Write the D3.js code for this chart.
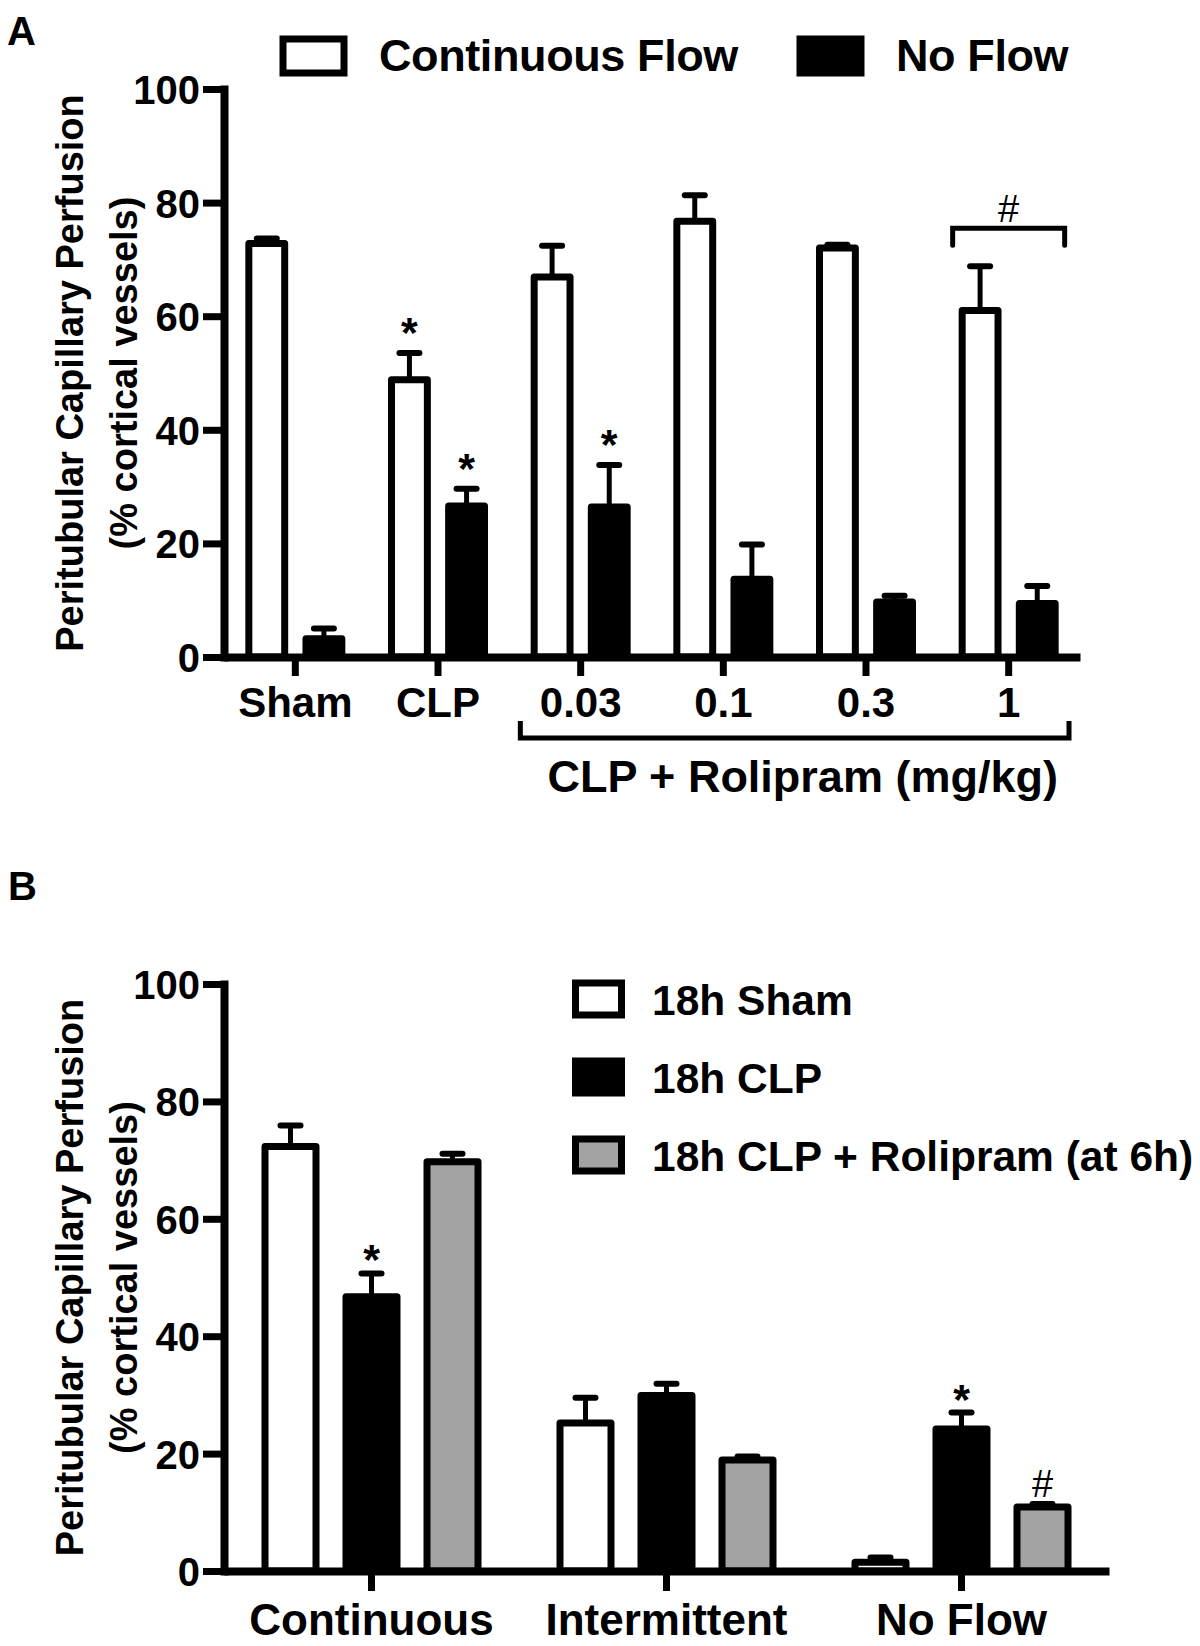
<!DOCTYPE html>
<html>
<head>
<meta charset="utf-8">
<script src="https://cdn.jsdelivr.net/npm/d3@7"></script>
<style>
  body { margin: 0; background: #fff; }
  svg text { font-family: 'Liberation Sans', Arial, Helvetica, sans-serif; font-weight: bold; fill: #000; }
</style>
</head>
<body>
<svg id="fig" width="1200" height="1646"></svg>
<script>
// Panel A: peritubular perfusion vs rolipram dose
const groupsA = ['Sham', 'CLP', '0.03', '0.1', '0.3', '1'];
const seriesA = ['Continuous Flow', 'No Flow'];
const continuousA = [72.8, 48.8, 66.9, 76.7, 72.0, 61.0];
const continuousErrA = [0.9, 4.7, 5.5, 4.6, 0.6, 7.8];
const noFlowA = [3.2, 26.6, 26.4, 13.7, 9.7, 9.4];
const noFlowErrA = [1.8, 3.0, 7.4, 6.1, 1.1, 3.1];
const starsA = [[1, 0], [1, 1], [2, 1]]; // [group index, series index]
const doseGroupsA = ['0.03', '0.1', '0.3', '1'];
const doseLabelA = 'CLP + Rolipram (mg/kg)';

// Panel B: perfusion by flow category
const groupsB = ['Continuous', 'Intermittent', 'No Flow'];
const seriesB = ['18h Sham', '18h CLP', '18h CLP + Rolipram (at 6h)'];
const shamB = [72.3, 25.2, 1.5];
const shamErrB = [3.6, 4.3, 0.8];
const clpB = [46.7, 29.9, 24.2];
const clpErrB = [4.0, 2.0, 2.8];
const rolB = [69.7, 18.9, 10.9];
const rolErrB = [1.4, 0.6, 0.5];
const starsB = [[0, 1], [2, 1]];
const hashB = [[2, 2]];

const yTicks = [0, 20, 40, 60, 80, 100];
const yTitle = ['Peritubular Capillary Perfusion', '(% cortical vessels)'];

const SW = 7; // bar outline width

const svg = d3.select('#fig');

function rowsOf(groups, series, vals, errs) {
  const rows = [];
  groups.forEach((g, i) => series.forEach((s, j) => {
    rows.push({group: g, series: s, gi: i, si: j, value: vals[j][i], err: errs[j][i]});
  }));
  return rows;
}

function drawPanel(opts) {
  const {x, x1, y, rows, fills, tickSize, tickPad, labelSize} = opts;
  const g = svg.append('g');

  // bars
  g.selectAll('rect.bar')
    .data(rows)
    .join('rect')
      .attr('class', 'bar')
      .attr('x', (d) => x(d.group) + x.bandwidth() / 2 + x1(d.series) + SW / 2)
      .attr('y', (d) => y(d.value))
      .attr('width', x1.bandwidth() - SW)
      .attr('height', (d) => y(0) - y(d.value))
      .attr('fill', (d) => fills[d.si])
      .attr('stroke', '#000')
      .attr('stroke-width', SW)
      .attr('stroke-linejoin', 'round');

  const cx = (d) => x(d.group) + x.bandwidth() / 2 + x1(d.series) + x1.bandwidth() / 2;

  // error bars (upper only)
  g.selectAll('line.stem')
    .data(rows)
    .join('line')
      .attr('x1', cx).attr('x2', cx)
      .attr('y1', (d) => y(d.value)).attr('y2', (d) => y(d.value + d.err))
      .attr('stroke', '#000').attr('stroke-width', 5);
  g.selectAll('line.cap')
    .data(rows)
    .join('line')
      .attr('x1', (d) => cx(d) - 10).attr('x2', (d) => cx(d) + 10)
      .attr('y1', (d) => y(d.value + d.err)).attr('y2', (d) => y(d.value + d.err))
      .attr('stroke', '#000').attr('stroke-width', 6).attr('stroke-linecap', 'round');

  // y axis
  const ya = g.append('g')
    .attr('transform', `translate(${x.range()[0]},0)`)
    .call(d3.axisLeft(y).tickValues(yTicks).tickSize(21).tickSizeOuter(0).tickPadding(3));
  ya.select('.domain').attr('stroke-width', 8).attr('stroke-linecap', 'square');
  ya.selectAll('.tick line').attr('stroke-width', 7);
  ya.selectAll('.tick text').attr('font-size', 40).attr('dy', '0.36em')
    .style('font-family', "'Liberation Sans', Arial, sans-serif").style('font-weight', 'bold');

  // x axis
  const xa = g.append('g')
    .attr('transform', `translate(0,${y(0)})`)
    .call(d3.axisBottom(x).tickSize(tickSize).tickSizeOuter(0).tickPadding(tickPad));
  xa.select('.domain').attr('stroke-width', 8);
  xa.selectAll('.tick line').attr('stroke-width', 7);
  xa.selectAll('.tick text').attr('font-size', labelSize)
    .style('font-family', "'Liberation Sans', Arial, sans-serif").style('font-weight', 'bold');

  // y title
  const mid = (y(0) + y(100)) / 2;
  yTitle.forEach((t, i) => {
    g.append('text')
      .attr('transform', `translate(${i === 0 ? 83 : 137},${mid}) rotate(-90)`)
      .attr('text-anchor', 'middle')
      .attr('font-size', 38)
      .text(t);
  });

  return {g, cx};
}

// ---------- Panel A ----------
const xA = d3.scaleBand().domain(groupsA).range([224, 1080]);
const x1A = d3.scaleBand().domain(seriesA).range([-50, 50]).paddingInner(0.25);
const yA = d3.scaleLinear().domain([0, 100]).range([657, 89]);
const rowsA = rowsOf(groupsA, seriesA, [continuousA, noFlowA], [continuousErrA, noFlowErrA]);
const pA = drawPanel({x: xA, x1: x1A, y: yA, rows: rowsA, fills: ['#fff', '#000'],
  tickSize: 19, tickPad: 11, labelSize: 42});

starsA.forEach(([gi, si]) => {
  const d = rowsA.find((r) => r.gi === gi && r.si === si);
  pA.g.append('text')
    .attr('x', pA.cx(d)).attr('y', yA(d.value + d.err) - 6)
    .attr('text-anchor', 'middle').attr('font-size', 43).text('*');
});

// bracket + hash over the 1 mg/kg group
{
  const gx = xA('1') + xA.bandwidth() / 2;
  const by = yA(75.5);
  pA.g.append('path')
    .attr('d', `M${gx - 56},${by + 17}V${by}H${gx + 56}V${by + 17}`)
    .attr('fill', 'none').attr('stroke', '#000').attr('stroke-width', 5)
    .attr('stroke-linecap', 'round');
  pA.g.append('text')
    .attr('x', gx).attr('y', by - 6)
    .attr('text-anchor', 'middle').attr('font-size', 38).style('font-weight', 'normal')
    .text('#');
}

// bracket under the dose groups
{
  const x0 = xA(doseGroupsA[0]) + 11;
  const x9 = xA(doseGroupsA[doseGroupsA.length - 1]) + xA.bandwidth() - 11;
  const by = yA(0) + 81;
  pA.g.append('path')
    .attr('d', `M${x0},${by - 17}V${by}H${x9}V${by - 17}`)
    .attr('fill', 'none').attr('stroke', '#000').attr('stroke-width', 5);
  pA.g.append('text')
    .attr('x', (x0 + x9) / 2 + 8).attr('y', by + 54)
    .attr('text-anchor', 'middle').attr('font-size', 45)
    .text(doseLabelA);
}

// legend A (horizontal)
{
  const lg = svg.append('g');
  const items = [{x: 283, fill: '#fff'}, {x: 800, fill: '#000'}];
  seriesA.forEach((s, i) => {
    lg.append('rect')
      .attr('x', items[i].x).attr('y', 39).attr('width', 61).attr('height', 34)
      .attr('fill', items[i].fill).attr('stroke', '#000').attr('stroke-width', SW);
    lg.append('text')
      .attr('x', items[i].x + 96).attr('y', 71)
      .attr('font-size', 45).attr('letter-spacing', -0.4)
      .text(s);
  });
}

svg.append('text').attr('x', 7).attr('y', 45).attr('font-size', 40).text('A');

// ---------- Panel B ----------
const xB = d3.scaleBand().domain(groupsB).range([224, 1109]);
const x1B = d3.scaleBand().domain(seriesB).range([-110, 110]).paddingInner(0.284);
const yB = d3.scaleLinear().domain([0, 100]).range([1571, 984]);
const rowsB = rowsOf(groupsB, seriesB, [shamB, clpB, rolB], [shamErrB, clpErrB, rolErrB]);
const pB = drawPanel({x: xB, x1: x1B, y: yB, rows: rowsB, fills: ['#fff', '#000', '#a3a3a3'],
  tickSize: 20, tickPad: 13, labelSize: 44});

starsB.forEach(([gi, si]) => {
  const d = rowsB.find((r) => r.gi === gi && r.si === si);
  pB.g.append('text')
    .attr('x', pB.cx(d)).attr('y', yB(d.value + d.err) + 1)
    .attr('text-anchor', 'middle').attr('font-size', 43).text('*');
});
hashB.forEach(([gi, si]) => {
  const d = rowsB.find((r) => r.gi === gi && r.si === si);
  pB.g.append('text')
    .attr('x', pB.cx(d)).attr('y', yB(d.value + d.err) - 7)
    .attr('text-anchor', 'middle').attr('font-size', 38).style('font-weight', 'normal')
    .text('#');
});

// legend B (vertical)
{
  const lg = svg.append('g');
  const fills = ['#fff', '#000', '#a3a3a3'];
  seriesB.forEach((s, i) => {
    const top = 983 + i * 78;
    lg.append('rect')
      .attr('x', 575.5).attr('y', top).attr('width', 46).attr('height', 32)
      .attr('fill', fills[i]).attr('stroke', '#000').attr('stroke-width', SW);
    lg.append('text')
      .attr('x', 652).attr('y', top + 32)
      .attr('font-size', 42.5)
      .text(s);
  });
}

svg.append('text').attr('x', 8).attr('y', 900).attr('font-size', 40).text('B');
</script>
</body>
</html>
